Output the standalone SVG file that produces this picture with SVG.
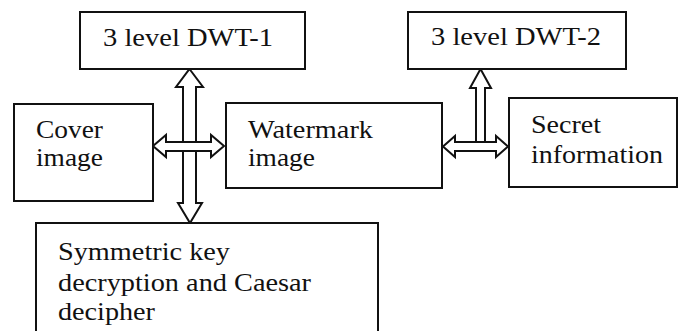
<svg xmlns="http://www.w3.org/2000/svg" width="678" height="331" viewBox="0 0 678 331">
<style>
.box{fill:#fff;stroke:#111;stroke-width:2}
.arr{fill:#fff;stroke:#111;stroke-width:2;stroke-linejoin:miter}
.t{font-family:"Liberation Serif","Times New Roman",serif;font-size:25px;fill:#111}
</style>
<rect width="678" height="331" fill="#fff"/>
<g id="connectors">
<polygon class="arr" points="189.5,69 203,87 196,87 196,142 183,142 183,87 176,87"/>
<polygon class="arr" points="183,151 196,151 196,203 202,203 190,223 178,203 183,203"/>
<polygon class="arr" points="153,146 166,135 166,142 211,142 211,135 224,146 211,157 211,151 166,151 166,157"/>
<polygon class="arr" points="480.5,69 491,88 485,88 485,142 476,142 476,88 470,88"/>
<polygon class="arr" points="443,146.5 455,136 455,142 496,142 496,136 508,146.5 496,157 496,151 455,151 455,157"/>
</g>
<g id="dwt1">
<rect class="box" x="80" y="12" width="225" height="57"/>
<text class="t" x="103" y="46" textLength="170" lengthAdjust="spacingAndGlyphs">3 level DWT-1</text>
</g>
<g id="dwt2">
<rect class="box" x="408" y="12" width="218" height="57"/>
<text class="t" x="431" y="45" textLength="170" lengthAdjust="spacingAndGlyphs">3 level DWT-2</text>
</g>
<g id="cover">
<rect class="box" x="14" y="104" width="139" height="97"/>
<text class="t" x="36" y="138" textLength="67" lengthAdjust="spacingAndGlyphs">Cover</text>
<text class="t" x="36" y="166" textLength="67" lengthAdjust="spacingAndGlyphs">image</text>
</g>
<g id="watermark">
<rect class="box" x="226" y="103" width="216" height="85"/>
<text class="t" x="248" y="138" textLength="125" lengthAdjust="spacingAndGlyphs">Watermark</text>
<text class="t" x="248" y="166" textLength="67" lengthAdjust="spacingAndGlyphs">image</text>
</g>
<g id="secret">
<rect class="box" x="509" y="98" width="168" height="89"/>
<text class="t" x="531" y="133" textLength="70" lengthAdjust="spacingAndGlyphs">Secret</text>
<text class="t" x="531" y="163" textLength="132" lengthAdjust="spacingAndGlyphs">information</text>
</g>
<g id="symmetric">
<rect class="box" x="36" y="223" width="342" height="120"/>
<text class="t" x="58" y="260" textLength="172" lengthAdjust="spacingAndGlyphs">Symmetric key</text>
<text class="t" x="58" y="291" textLength="253" lengthAdjust="spacingAndGlyphs">decryption and Caesar</text>
<text class="t" x="58" y="320" textLength="97" lengthAdjust="spacingAndGlyphs">decipher</text>
</g>
</svg>
